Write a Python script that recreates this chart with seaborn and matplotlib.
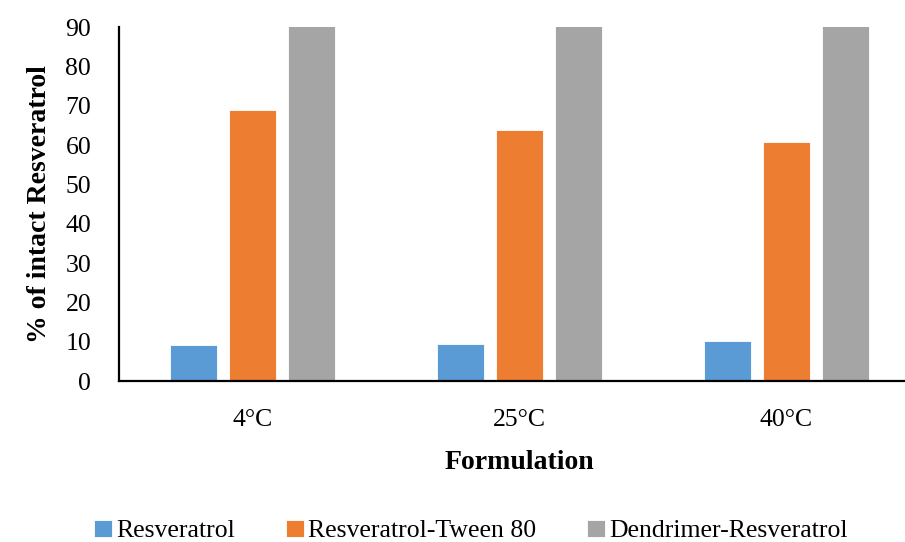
import matplotlib
matplotlib.use("Agg")
import matplotlib.pyplot as plt
import seaborn as sns
import pandas as pd

temperatures = ["4°C", "25°C", "40°C"]
formulations = ["Resveratrol", "Resveratrol-Tween 80", "Dendrimer-Resveratrol"]
resveratrol = [9.1, 9.3, 10.1]
tween80 = [68.9, 63.8, 60.8]
dendrimer = [95.0, 95.0, 95.0]
colors = ["#5B9BD5", "#ED7D31", "#A5A5A5"]

rows = []
for f, vals in zip(formulations, [resveratrol, tween80, dendrimer]):
    for t, v in zip(temperatures, vals):
        rows.append({"Temperature": t, "Formulation": f, "Value": v})
df = pd.DataFrame(rows)

sns.set_style("white")
plt.rcParams["font.family"] = ["Liberation Serif", "DejaVu Serif"]
plt.rcParams["text.color"] = "black"
plt.rcParams["axes.labelcolor"] = "black"

fig = plt.figure(figsize=(9.05, 5.42), dpi=100)
W, H = 905, 542
ax = fig.add_axes([119 / W, 1 - 381 / H, 801 / W, (381 - 27) / H])

sns.barplot(data=df, x="Temperature", y="Value", hue="Formulation",
            hue_order=formulations, order=temperatures, palette=colors,
            width=0.663, gap=0.22, saturation=1, ax=ax, errorbar=None,
            edgecolor="white", linewidth=0.6)

ax.set_ylim(0, 90)
ax.set_yticks(range(0, 91, 10))
ax.set_xlim(-0.5, 2.5)
ax.tick_params(axis="both", length=0, labelsize=18.5, colors="black")
ax.tick_params(axis="x", pad=20)
ax.tick_params(axis="y", pad=20)
for s in ["top", "right"]:
    ax.spines[s].set_visible(False)
for s in ["left", "bottom"]:
    ax.spines[s].set_color("black")
    ax.spines[s].set_linewidth(1.6)

ax.set_ylabel("% of intact Resveratrol", fontsize=20, fontweight="bold", labelpad=10)
ax.set_xlabel("Formulation", fontsize=20, fontweight="bold", labelpad=14)

handles, labels = ax.get_legend_handles_labels()
ax.legend_.remove()
fig.legend(handles, labels, loc="center", bbox_to_anchor=(471 / W, 1 - 531 / H),
           ncol=3, frameon=False, fontsize=18.5, handlelength=0.7, handleheight=0.7,
           handletextpad=0.15, columnspacing=2.0)

fig.savefig("out.png", dpi=100)
